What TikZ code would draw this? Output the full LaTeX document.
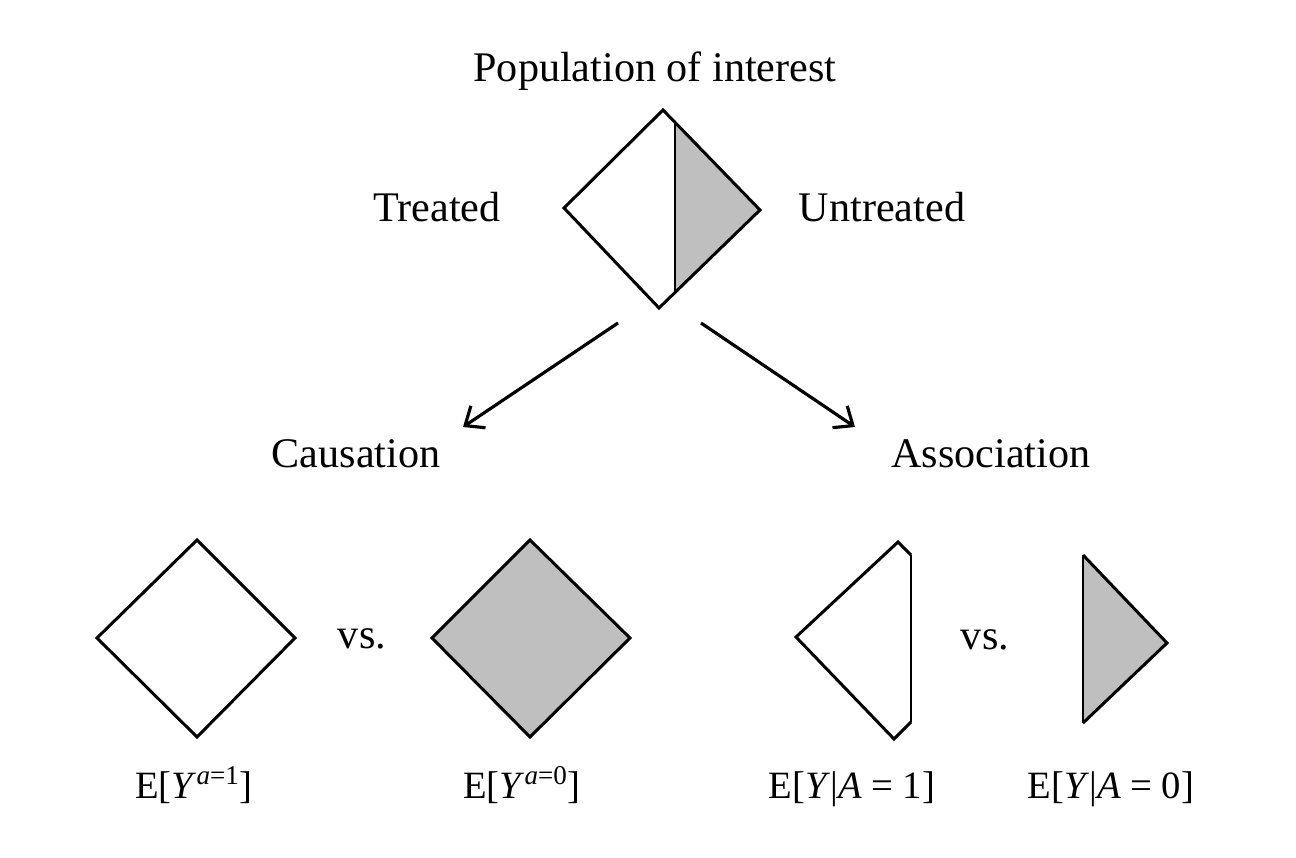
\documentclass[tikz,border=0pt]{standalone}
\usepackage{fontspec}
\setmainfont{Liberation Serif}
\usepackage{tikz}
\usetikzlibrary{positioning}
\usetikzlibrary{arrows.meta}

\tikzset{
    lbl/.style={font=\fontsize{24}{28}\selectfont, inner sep=0pt, anchor=base},
    exprlbl/.style={font=\fontsize{22}{26}\selectfont, inner sep=0pt, anchor=base},
    shapeline/.style={line width=1.7pt, line join=miter},
    thinline/.style={line width=1pt},
    arr/.style={line width=1.8pt, -{Straight Barb[length=9pt,width=15pt,line width=1.8pt]}}
}

\begin{document}
\begin{tikzpicture}[x=0.02cm,y=-0.02cm]
        \useasboundingbox (0,0) rectangle (1296,858);
        % population diamond
        \fill[lightgray] (675,122)--(760,210)--(675,292)--cycle;
        \draw[thinline] (675,122)--(675,292);
        \draw[shapeline] (663,110)--(760,210)--(659,308)--(564,208)--cycle;
        \node[lbl] (pop) at (655,82) {Population of interest};
        \node[lbl] (treated) at (437,222) {Treated};
        \node[lbl] (untreated) at (882,222) {Untreated};
        % arrows
        \coordinate (startL) at (618,323);
        \coordinate (startR) at (701,323);
        \node[lbl] (caus) at (356,467) {Causation};
        \node[lbl] (assoc) at (991,467) {Association};
        \coordinate (endL) at (463,427);
        \coordinate (endR) at (855,427);
        \draw[arr] (startL)--(endL);
        \draw[arr] (startR)--(endR);
        % causation
        \draw[shapeline] (197,540)--(295,638)--(197,737)--(97,638)--cycle;
        \node[lbl] (vsL) at (362,648) {vs.};
        \draw[shapeline, fill=lightgray] (530,540)--(630,638)--(530,737)--(432,638)--cycle;
        \node[exprlbl] (ey1) at (194,798) {E[\textit{Y}\textsuperscript{\textit{a}=1}]};
        \node[exprlbl] (ey0) at (522,798) {E[\textit{Y}\textsuperscript{\textit{a}=0}]};
        % association
        \draw[thinline] (911,555)--(911,722);
        \draw[shapeline] (911,555)--(898,542)--(796,637)--(894,739)--(911,722);
        \node[lbl] (vsR) at (985,649) {vs.};
        \fill[lightgray] (1083,555)--(1167,643)--(1083,723)--cycle;
        \draw[thinline] (1083,555)--(1083,723);
        \draw[shapeline] (1083,555)--(1167,643)--(1083,723);
        \node[exprlbl] (ya1) at (852,798) {E[\textit{Y}|\textit{A} = 1]};
        \node[exprlbl] (ya0) at (1111,798) {E[\textit{Y}|\textit{A} = 0]};
\end{tikzpicture}
\end{document}
